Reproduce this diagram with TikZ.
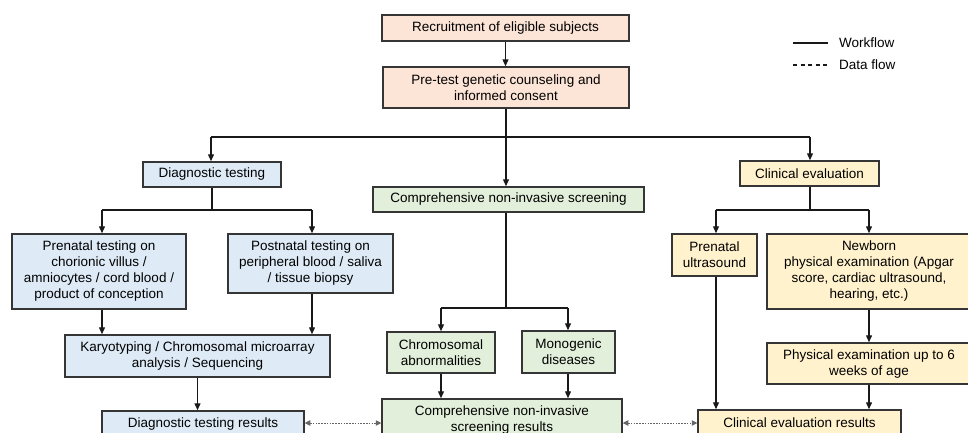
\documentclass[tikz,border=0pt]{standalone}
\usepackage{fontspec}
\setmainfont{Liberation Sans}
\usetikzlibrary{arrows.meta}
\definecolor{peach}{HTML}{FCE4D6}
\definecolor{lblue}{HTML}{DEEBF7}
\definecolor{lgreen}{HTML}{E2EFDA}
\definecolor{lyellow}{HTML}{FFF2CC}
\definecolor{edge}{HTML}{353535}
\tikzset{
  box/.style={draw=edge, line width=1.5pt, align=center, inner sep=0pt,
    font=\fontsize{13.5}{16}\selectfont, text=black},
  orbox/.style={box, fill=peach},
  blbox/.style={box, fill=lblue},
  grbox/.style={box, fill=lgreen},
  yebox/.style={box, fill=lyellow},
  arr/.style={line width=1.3pt, draw=black!90, -{Triangle[length=7pt,width=6pt]}},
  wline/.style={line width=1.3pt, draw=black!90},
  dflow/.style={line width=0.8pt, draw=black!60, dash pattern=on 1.6pt off 1.2pt,
    {Triangle[length=5.5pt,width=5.5pt]}-{Triangle[length=5.5pt,width=5.5pt]}},
  legtext/.style={font=\fontsize{13.5}{16}\selectfont, anchor=west, inner sep=0pt, text=black}
}
\begin{document}
\begin{tikzpicture}[x=1pt,y=-1pt]
\useasboundingbox (0,0) rectangle (968,432);
\clip (0,0) rectangle (968,432);
% boxes
\node[orbox, minimum width=247pt, minimum height=26pt] (rec) at (505.5,28) {Recruitment of eligible subjects};
\node[orbox, minimum width=246pt, minimum height=41pt] (pre) at (506,87.5) {Pre-test genetic counseling and\\informed consent};
\node[blbox, minimum width=138pt, minimum height=25pt] (diag) at (212,174.5) {Diagnostic testing};
\node[grbox, minimum width=271pt, minimum height=25pt] (cnis) at (508.5,199.5) {Comprehensive non-invasive screening};
\node[yebox, minimum width=139pt, minimum height=25pt] (clin) at (809.5,173.5) {Clinical evaluation};
\node[blbox, minimum width=174pt, minimum height=75pt] (pren) at (99,271.5) {Prenatal testing on\\chorionic villus /\\amniocytes / cord blood /\\product of conception};
\node[blbox, minimum width=165pt, minimum height=59pt] (post) at (310.5,263.5) {Postnatal testing on\\peripheral blood / saliva\\/ tissue biopsy};
\node[blbox, minimum width=265pt, minimum height=42pt] (kary) at (197.5,356) {Karyotyping / Chromosomal microarray\\analysis / Sequencing};
\node[blbox, minimum width=202pt, minimum height=25pt] (dres) at (203,423.5) {Diagnostic testing results};
\node[grbox, minimum width=108pt, minimum height=41pt] (chrom) at (441,352.5) {Chromosomal\\abnormalities};
\node[grbox, minimum width=93pt, minimum height=42pt] (mono) at (568.5,352) {Monogenic\\diseases};
\node[grbox, minimum width=240pt, minimum height=41pt] (cres) at (502,419.5) {Comprehensive non-invasive\\screening results};
\node[yebox, minimum width=85pt, minimum height=42pt] (pus) at (714.5,255) {Prenatal\\ultrasound};
\node[yebox, minimum width=204pt, minimum height=75pt] (newb) at (869,271.5) {Newborn\\physical examination (Apgar\\score, cardiac ultrasound,\\hearing, etc.)};
\node[yebox, minimum width=204pt, minimum height=41pt] (phys) at (869,363.5) {Physical examination up to 6\\weeks of age};
\node[yebox, minimum width=203pt, minimum height=25pt] (lres) at (799.5,422.5) {Clinical evaluation results};
% junctions
\coordinate (j0) at (506,137);
\coordinate (jl) at (211,137);
\coordinate (jr) at (810,137);
\coordinate (jd) at (212,210);
\coordinate (jdl) at (102,210);
\coordinate (jdr) at (312,210);
\coordinate (jc) at (506,308);
\coordinate (jcl) at (441,308);
\coordinate (jcr) at (568,308);
\coordinate (jy) at (810,210);
\coordinate (jyl) at (716,210);
\coordinate (jyr) at (869,210);
% workflow connectors
\draw[arr] (rec.south) -- (rec.south |- pre.north);
\draw[wline] (pre.south) -- (j0);
\draw[wline] (jl) -- (jr);
\draw[arr] (jl) -- (jl |- diag.north);
\draw[arr] (j0) -- (j0 |- cnis.north);
\draw[arr] (jr) -- (jr |- clin.north);
\draw[wline] (diag.south) -- (jd);
\draw[wline] (jdl) -- (jdr);
\draw[arr] (jdl) -- (jdl |- pren.north);
\draw[arr] (jdr) -- (jdr |- post.north);
\draw[arr] (jdl |- pren.south) -- (jdl |- kary.north);
\draw[arr] (jdr |- post.south) -- (jdr |- kary.north);
\draw[arr] (kary.south) -- (kary.south |- dres.north);
\draw[wline] (j0 |- cnis.south) -- (jc);
\draw[wline] (jcl) -- (jcr);
\draw[arr] (jcl) -- (jcl |- chrom.north);
\draw[arr] (jcr) -- (jcr |- mono.north);
\draw[arr] (jcl |- chrom.south) -- (jcl |- cres.north);
\draw[arr] (jcr |- mono.south) -- (jcr |- cres.north);
\draw[wline] (jr |- clin.south) -- (jy);
\draw[wline] (jyl) -- (jyr);
\draw[arr] (jyl) -- (jyl |- pus.north);
\draw[arr] (jyr) -- (jyr |- newb.north);
\draw[arr] (jyl |- pus.south) -- (jyl |- lres.north);
\draw[arr] (jyr |- newb.south) -- (jyr |- phys.north);
\draw[arr] (jyr |- phys.south) -- (jyr |- lres.north);
% data flow
\coordinate (dy) at (0,423);
\draw[dflow] (dres.east |- dy) -- (cres.west |- dy);
\draw[dflow] (cres.east |- dy) -- (lres.west |- dy);
% legend
\coordinate (l1a) at (793,43);
\coordinate (l1b) at (828,43);
\coordinate (l2a) at (793,65);
\coordinate (l2b) at (828,65);
\draw[line width=1.3pt, draw=black!90] (l1a) -- (l1b);
\draw[line width=1.3pt, draw=black!90, dash pattern=on 4pt off 3.5pt] (l2a) -- (l2b);
\node[legtext] (lw) at (839,43) {Workflow};
\node[legtext] (ld) at (839,65) {Data flow};
\end{tikzpicture}
\end{document}
